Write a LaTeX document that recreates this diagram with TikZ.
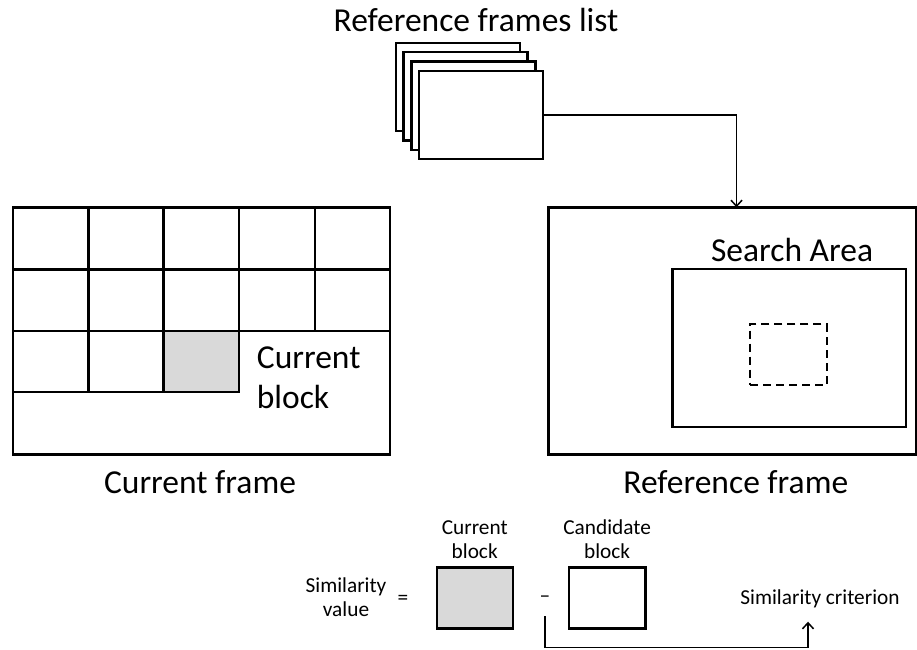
\documentclass[tikz,border=0pt]{standalone}
\usepackage{fontspec}
\setmainfont{Carlito}
\usetikzlibrary{arrows.meta}
\begin{document}
\begin{tikzpicture}[x=1pt,y=-1pt,
  box/.style={draw=black, line width=2.4pt, fill=white, inner sep=0pt, outer sep=0pt, anchor=north west},
  gridline/.style={draw=black, line width=2.4pt},
  big/.style={font=\fontsize{33.5}{40}\selectfont, inner sep=0pt},
  small/.style={font=\fontsize{21.3}{24.5}\selectfont, inner sep=0pt},
  conn/.style={draw=black, line width=1.5pt},
  tip/.style={-{Straight Barb[length=6pt,width=11pt,line width=1.5pt]}}
]
\useasboundingbox (0,0) rectangle (917,649);

% reference frames list (stack)
\node[box, minimum width=124, minimum height=88.3] (fa) at (396,42.7) {};
\node[box, minimum width=124, minimum height=88.3] (fb) at (403.6,52) {};
\node[box, minimum width=124, minimum height=88.3] (fc) at (411.3,61.4) {};
\node[box, minimum width=124, minimum height=88.3] (fd) at (419,70.7) {};
\node[big, anchor=base] (title) at (476,31.5) {Reference frames list};

% current frame
\node[box, minimum width=377.3, minimum height=247] (cf) at (12.7,207.3) {};
\node[box, fill={rgb,255:red,217;green,217;blue,217}, minimum width=75.7, minimum height=60.7] (cb) at (163.3,331) {};
\draw[gridline] (12.7,269.3) -- (390,269.3);
\draw[gridline] (12.7,331) -- (390,331);
\draw[gridline] (12.7,391.7) -- (239,391.7);
\foreach \x in {88.3,163.3,239} \draw[gridline] (\x,207.3) -- (\x,391.7);
\draw[gridline] (315,207.3) -- (315,331);
\node[big, anchor=base west, align=left] (cbl) at (256.7,408.3) {Current\\block};
\node[big, anchor=base] (cfl) at (200,493.3) {Current frame};

% reference frame
\node[box, minimum width=367.4, minimum height=247] (rf) at (548.3,207.3) {};
\node[box, minimum width=233.7, minimum height=157.7] (sa) at (672.3,269) {};
\node[box, dashed, dash pattern=on 8pt off 5pt, line width=2.2pt, minimum width=76.7, minimum height=61] (cand) at (750,324) {};
\node[big, anchor=base] (sal) at (792,261) {Search Area};
\node[big, anchor=base] (rfl) at (735.8,493.3) {Reference frame};

% arrow list -> reference frame
\draw[conn, tip] (fd.east) -| ([xshift=4.5pt]rf.north);

% similarity formula
\node[small, align=center] (simv) at (346,597) {Similarity\\value};
\node[small] (eq) at (403,600) {=};
\node[box, fill={rgb,255:red,217;green,217;blue,217}, minimum width=76, minimum height=61] (gb) at (436.7,567.3) {};
\node[box, minimum width=76.3, minimum height=61] (wb) at (569,567.3) {};
\node[small, align=center, anchor=south] (gbl) at ([yshift=8pt]gb.north) {Current\\block};
\node[small, align=center, anchor=south] (wbl) at ([yshift=8pt]wb.north) {Candidate\\block};
\node[small, minimum height=34pt] (minus) at (545,599) {–};
\node[small, minimum height=45pt] (crit) at (820,599) {Similarity criterion};
\coordinate (bot) at (0,647.6);
\draw[conn, tip] (minus.south) -- (minus.south |- bot) -| ([xshift=-12pt]crit.south);
\end{tikzpicture}
\end{document}
